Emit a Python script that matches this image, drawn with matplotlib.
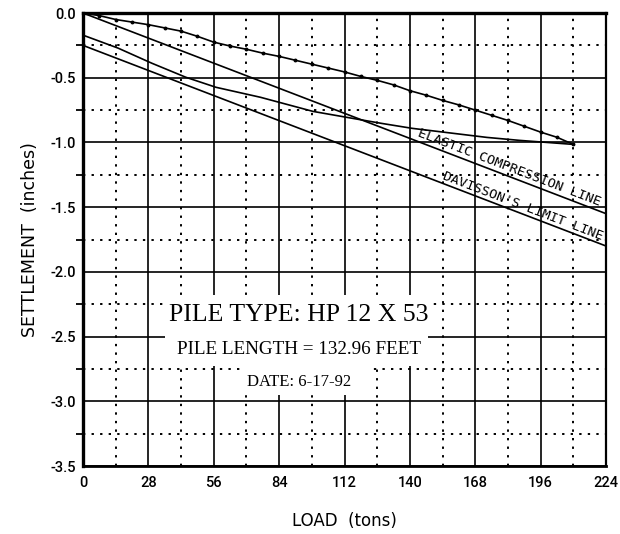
import numpy as np
import matplotlib
matplotlib.use("Agg")
import matplotlib.pyplot as plt
from matplotlib.patches import Rectangle

# carga (tons) y asentamiento (inches)
load_up = [0, 7, 14, 21, 28, 35, 42, 49, 56, 63, 70, 77, 84, 91, 98, 105,
           112, 119, 126, 133, 140, 147, 154, 161, 168, 175, 182, 189, 196, 203, 210]
settle_up = [0.0, -0.02, -0.05, -0.07, -0.09, -0.115, -0.14, -0.18, -0.225, -0.255,
             -0.28, -0.31, -0.335, -0.365, -0.395, -0.425, -0.455, -0.49, -0.52,
             -0.555, -0.60, -0.635, -0.675, -0.71, -0.75, -0.79, -0.83, -0.875,
             -0.92, -0.96, -1.015]

load_down = [210, 187, 173, 141, 128, 113, 98.5, 76, 57, 44, 29.5, 15, 0]
settle_down = [-1.015, -0.984, -0.961, -0.891, -0.853, -0.806, -0.760, -0.651,
               -0.574, -0.496, -0.388, -0.271, -0.171]

elastic_load = [0, 224]
elastic_settle = [0.0, -1.55]
davisson_load = [0, 224]
davisson_settle = [-0.25, -1.80]

x_ticks = [0, 28, 56, 84, 112, 140, 168, 196, 224]
y_ticks = [0.0, -0.5, -1.0, -1.5, -2.0, -2.5, -3.0, -3.5]
y_labels = ["0.0", "-0.5", "-1.0", "-1.5", "-2.0", "-2.5", "-3.0", "-3.5"]

fig = plt.figure(figsize=(6.2, 5.34), dpi=100)
ax = fig.add_axes([0.1339, 0.1273, 0.8435, 0.8483])

ax.set_xlim(0, 224)
ax.set_ylim(-3.5, 0.0)
ax.set_xticks(x_ticks)
ax.set_xticklabels([str(v) for v in x_ticks])
ax.set_yticks(y_ticks)
ax.set_yticklabels(y_labels)
ax.set_xticks(np.arange(14, 224, 28), minor=True)
ax.set_yticks(np.arange(-0.25, -3.5, -0.5), minor=True)

ax.grid(which="major", color="black", linewidth=1.2, linestyle="-", zorder=0.5)
ax.grid(which="minor", color="black", linewidth=1.4, linestyle=(0, (1.2, 3.2)), zorder=0.5)
ax.set_axisbelow(True)

ax.tick_params(which="major", length=0, pad=7)
ax.tick_params(axis="y", which="major", pad=5)
ax.tick_params(axis="y", which="minor", length=5, width=1.3, direction="out")
ax.tick_params(axis="x", which="minor", length=0)

for lab in ax.get_xticklabels() + ax.get_yticklabels():
    lab.set_fontfamily(["Roboto", "DejaVu Sans"])
    lab.set_fontsize(10.5)
    lab.set_fontweight("medium")

for side, lw in [("top", 2.4), ("left", 2.4), ("right", 1.6), ("bottom", 2.0)]:
    ax.spines[side].set_linewidth(lw)

# curvas
ax.plot(load_up, settle_up, color="black", linewidth=1.2, marker="o",
        markersize=1.8, zorder=3)
ax.plot(load_down, settle_down, color="black", linewidth=1.2, zorder=3)
ax.plot(elastic_load, elastic_settle, color="black", linewidth=1.2, zorder=3)
ax.plot(davisson_load, davisson_settle, color="black", linewidth=1.2, zorder=3)

# etiquetas inclinadas de las lineas
ang = np.degrees(np.arctan2(elastic_settle[1] - elastic_settle[0],
                            elastic_load[1] - elastic_load[0]))
ax.text(182.5, -1.195, "ELASTIC COMPRESSION LINE", rotation=ang,
        transform_rotates_text=True, rotation_mode="anchor", ha="center",
        va="center", fontsize=9.7, family="DejaVu Sans Mono", zorder=4)
ax.text(188.5, -1.49, "DAVISSON'S LIMIT LINE", rotation=ang,
        transform_rotates_text=True, rotation_mode="anchor", ha="center",
        va="center", fontsize=9.7, family="DejaVu Sans Mono", zorder=4)

# recuadros blancos detras del texto
ax.add_patch(Rectangle((35.1, -2.73), 112.7, 0.55, facecolor="white",
                       edgecolor="none", zorder=1))
ax.add_patch(Rectangle((68.0, -2.95), 55.0, 0.22, facecolor="white",
                       edgecolor="none", zorder=1))

serif = ["Liberation Serif", "DejaVu Serif"]
ax.text(92.5, -2.33, "PILE TYPE: HP 12 X 53", ha="center", va="center",
        fontsize=18.5, family=serif, zorder=4)
ax.text(92.5, -2.60, "PILE LENGTH = 132.96 FEET", ha="center", va="center",
        fontsize=13.8, family=serif, zorder=4)
ax.text(92.5, -2.85, "DATE: 6-17-92", ha="center", va="center",
        fontsize=12, family=serif, zorder=4)

ax.set_xlabel("LOAD  (tons)", fontsize=12, labelpad=16)
ax.set_ylabel("SETTLEMENT  (inches)", fontsize=12.5, labelpad=8)

fig.savefig("out.png", dpi=100)
